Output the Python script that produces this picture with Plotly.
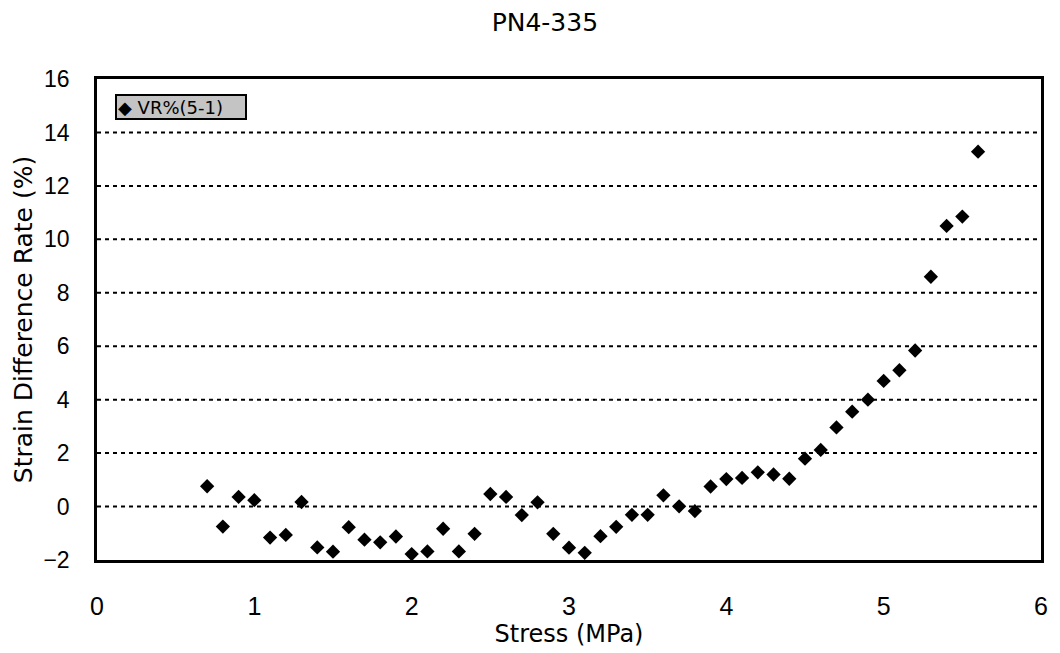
import plotly.graph_objects as go

# Stress steps (MPa) and strain difference rate VR%(5-1)
stress = [0.7, 0.8, 0.9, 1.0, 1.1, 1.2, 1.3, 1.4, 1.5, 1.6,
          1.7, 1.8, 1.9, 2.0, 2.1, 2.2, 2.3, 2.4, 2.5, 2.6,
          2.7, 2.8, 2.9, 3.0, 3.1, 3.2, 3.3, 3.4, 3.5, 3.6,
          3.7, 3.8, 3.9, 4.0, 4.1, 4.2, 4.3, 4.4, 4.5, 4.6,
          4.7, 4.8, 4.9, 5.0, 5.1, 5.2, 5.3, 5.4, 5.5, 5.6]
vr_5_1 = [0.76, -0.75, 0.36, 0.24, -1.16, -1.06, 0.17, -1.53, -1.69, -0.77,
          -1.24, -1.34, -1.12, -1.78, -1.68, -0.83, -1.68, -1.02, 0.47, 0.36,
          -0.32, 0.16, -1.02, -1.54, -1.73, -1.11, -0.76, -0.31, -0.31, 0.42,
          0.01, -0.17, 0.75, 1.03, 1.07, 1.28, 1.20, 1.04, 1.79, 2.12,
          2.96, 3.55, 4.00, 4.70, 5.10, 5.84, 8.60, 10.50, 10.85, 13.28]

series_name = "VR%(5-1)"
x_ticks = [0, 1, 2, 3, 4, 5, 6]
y_ticks = [-2, 0, 2, 4, 6, 8, 10, 12, 14, 16]

SANS = "Liberation Sans, Arial, sans-serif"
WIDE = "DejaVu Sans, Verdana, sans-serif"

fig = go.Figure()
fig.add_trace(go.Scatter(
    x=stress, y=vr_5_1, mode="markers", name=series_name, showlegend=False,
    marker=dict(symbol="diamond", size=11, color="black"),
))

# dotted horizontal gridlines
for yv in y_ticks[1:-1]:
    fig.add_shape(type="line", xref="paper", yref="y", x0=0, x1=1, y0=yv, y1=yv,
                  line=dict(color="black", width=2, dash="4px,4px"), layer="below")

# compact boxed key in the upper-left corner
fig.add_annotation(
    xref="paper", yref="paper", x=0.019, y=0.969, xanchor="left", yanchor="top",
    text="◆ " + series_name, showarrow=False, align="left",
    width=126, height=20,
    font=dict(family=WIDE, size=18, color="black"),
    bgcolor="#c4c4c4", bordercolor="black", borderwidth=2, borderpad=1,
)

fig.update_layout(
    width=1060, height=653,
    margin=dict(l=97, r=13, t=79, b=91),
    paper_bgcolor="white", plot_bgcolor="white",
    title=dict(text="PN4-335", x=0.514, xanchor="center", y=0.966, yanchor="middle",
               font=dict(family=WIDE, size=25, color="black")),
    font=dict(family=SANS, color="black"),
    xaxis=dict(range=[0, 6], tickvals=x_ticks, showgrid=False, zeroline=False,
               showline=True, linecolor="black", linewidth=2.5, mirror=True,
               ticks="", ticklabelstandoff=22,
               tickfont=dict(family=SANS, size=25, color="black"),
               title=dict(text="Stress (MPa)", font=dict(family=WIDE, size=24), standoff=4)),
    yaxis=dict(range=[-2, 16], tickvals=y_ticks, showgrid=False, zeroline=False,
               showline=True, linecolor="black", linewidth=2.5, mirror=True,
               ticks="", ticklabelstandoff=20,
               tickfont=dict(family=SANS, size=23, color="black"),
               title=dict(text="Strain Difference Rate (%)", font=dict(family=WIDE, size=25), standoff=4)),
)

fig.write_html("out.html")
